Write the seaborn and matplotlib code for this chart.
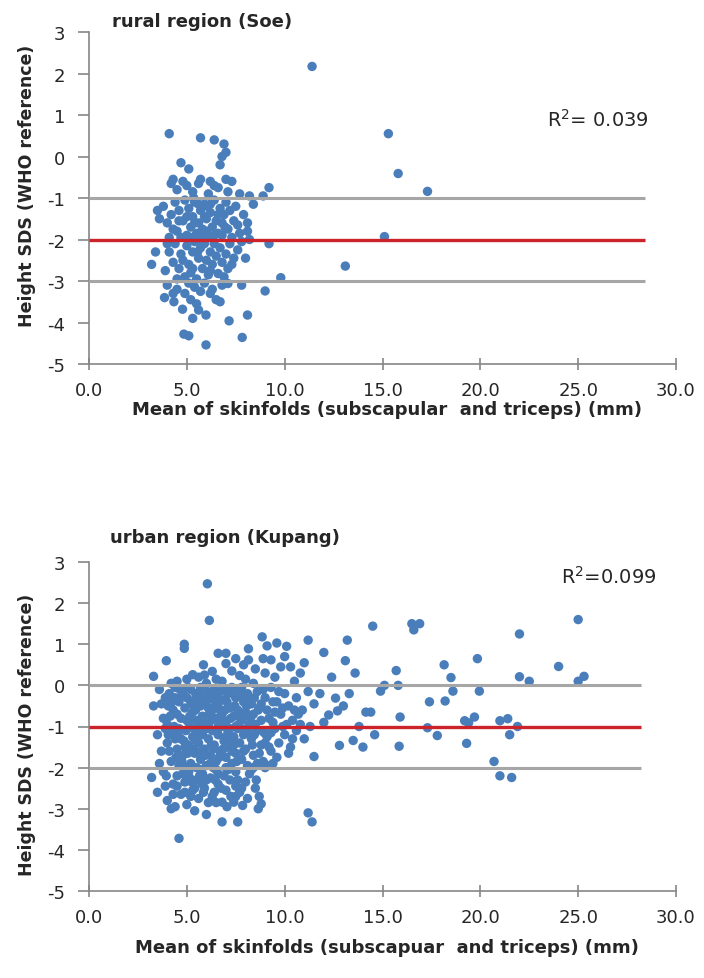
import matplotlib
matplotlib.use("Agg")
import matplotlib.pyplot as plt
import seaborn as sns
import pandas as pd

# ---------------- data ----------------
x_ticks = [0, 5, 10, 15, 20, 25, 30]
y_ticks = [-5, -4, -3, -2, -1, 0, 1, 2, 3]

rural_title = "rural region (Soe)"
urban_title = "urban region (Kupang)"
rural_xlabel = "Mean of skinfolds (subscapular  and triceps) (mm)"
urban_xlabel = "Mean of skinfolds (subscapuar  and triceps) (mm)"
ylabel = "Height SDS (WHO reference)"
rural_r2 = "R$^2$= 0.039"
urban_r2 = "R$^2$=0.099"

rural_grey_lines = [-1, -3]
rural_red_lines = [-2]
urban_grey_lines = [0, -2]
urban_red_lines = [-1]
rural_line_end = 28.4
urban_line_end = 28.2

rural_upper = [(4.1, 0.55), (5.7, 0.45), (6.4, 0.4), (6.9, 0.3), (7.0, 0.1), (6.8, 0.0),
               (4.7, -0.15), (5.1, -0.3), (6.7, -0.2), (5.7, -0.55), (4.2, -0.65), (6.4, -0.7),
               (7.0, -0.55), (7.3, -0.6), (4.5, -0.8), (5.0, -0.7), (5.3, -0.85), (6.1, -0.9),
               (6.6, -0.75), (7.1, -0.85), (7.7, -0.9), (8.2, -0.95), (8.9, -0.95), (9.2, -0.75),
               (4.3, -0.55), (4.8, -0.6), (5.6, -0.65), (6.2, -0.6)]
rural_mid = [(3.5, -1.3), (3.6, -1.5), (3.8, -1.2), (4.0, -1.6), (4.2, -1.4), (4.4, -1.1),
             (4.5, -1.8), (4.6, -1.3), (4.8, -1.55), (4.9, -1.05), (5.0, -1.9), (5.1, -1.25),
             (5.2, -1.7), (5.3, -1.45), (5.4, -1.1), (5.5, -1.85), (5.6, -1.6), (5.7, -1.3),
             (5.8, -1.75), (5.9, -1.15), (6.0, -1.5), (6.1, -1.95), (6.2, -1.35), (6.3, -1.7),
             (6.4, -1.05), (6.5, -1.55), (6.6, -1.85), (6.7, -1.25), (6.8, -1.6), (6.9, -1.4),
             (7.0, -1.1), (7.1, -1.75), (7.2, -1.3), (7.4, -1.55), (7.5, -1.2), (7.7, -1.85),
             (7.9, -1.4), (8.1, -1.6), (8.1, -1.8), (8.4, -1.15), (5.2, -1.95), (5.6, -1.15),
             (6.0, -1.8), (4.3, -1.75), (4.7, -1.95), (5.4, -1.6), (5.9, -1.45), (6.4, -1.9),
             (6.8, -1.9), (7.3, -1.95), (4.1, -1.95), (5.0, -1.45), (6.2, -1.15), (6.6, -1.4),
             (7.6, -1.65), (5.35, -1.0), (6.05, -1.2), (4.6, -1.55), (5.75, -1.95), (6.95, -1.7)]
rural_low = [(3.4, -2.3), (3.2, -2.6), (4.1, -2.3), (3.9, -2.75), (4.3, -2.55), (4.4, -2.1),
             (4.6, -2.7), (4.7, -2.35), (4.9, -2.9), (5.0, -2.15), (5.1, -2.6), (5.2, -2.8),
             (5.3, -2.3), (5.4, -2.05), (5.5, -2.95), (5.6, -2.45), (5.7, -2.2), (5.8, -2.7),
             (5.9, -2.1), (6.0, -2.5), (6.1, -2.85), (6.2, -2.3), (6.3, -2.6), (6.4, -2.1),
             (6.5, -2.4), (6.6, -2.82), (6.7, -2.2), (6.8, -2.55), (7.0, -2.35), (7.1, -2.7),
             (7.2, -2.1), (7.4, -2.45), (7.6, -2.25), (7.8, -2.05), (8.0, -2.45), (8.2, -2.0),
             (9.2, -2.1), (13.1, -2.64), (9.8, -2.92), (4.5, -2.95), (5.8, -2.05), (6.9, -2.9),
             (4.0, -2.1), (5.3, -2.7), (6.2, -2.75), (7.3, -2.6), (4.8, -2.5), (5.55, -2.3)]
rural_bottom = [(3.86, -3.4), (4.0, -3.1), (4.34, -3.5), (4.5, -3.2), (4.78, -3.68), (4.9, -3.3),
                (5.1, -3.05), (5.2, -3.45), (5.4, -3.15), (5.5, -3.55), (5.7, -3.25), (5.9, -3.05),
                (5.98, -3.82), (6.2, -3.3), (6.5, -3.45), (6.7, -3.5), (6.8, -3.1), (7.16, -3.96),
                (7.1, -3.06), (7.8, -3.1), (8.1, -3.82), (7.83, -4.36), (9.0, -3.24), (4.85, -4.28),
                (5.1, -4.32), (5.98, -4.54), (5.6, -3.7), (6.3, -3.2), (4.3, -3.3), (5.3, -3.9)]
rural_outliers = [(11.4, 2.17), (15.3, 0.55), (15.8, -0.41), (17.3, -0.84), (15.1, -1.93)]

urban_upper = [(6.05, 2.47), (6.15, 1.58), (4.87, 1.0), (4.87, 0.9), (3.95, 0.6), (3.3, 0.22),
               (8.85, 1.18), (9.1, 0.96), (9.6, 1.03), (8.15, 0.89), (8.15, 0.62), (6.6, 0.78),
               (7.0, 0.78), (7.0, 0.53), (5.85, 0.5), (6.3, 0.34), (7.7, 0.24), (5.3, 0.26),
               (8.9, 0.65), (9.3, 0.62), (10.0, 0.7), (11.2, 1.1), (10.8, 0.3), (4.5, 0.1),
               (5.0, 0.15), (5.6, 0.2), (6.0, 0.05), (6.8, 0.1), (7.3, 0.35), (8.0, 0.15),
               (8.5, 0.4), (9.0, 0.3), (9.5, 0.2), (10.3, 0.45), (10.5, 0.1), (4.2, 0.05),
               (5.9, 0.25), (7.9, 0.5), (9.8, 0.45), (8.4, 0.05), (6.5, 0.15), (11.0, 0.55),
               (10.1, 0.95), (7.5, 0.65)]
urban_core_a = [(3.6, -0.1), (3.9, -0.3), (4.1, -0.2), (4.3, -0.6), (4.4, -0.05), (4.6, -0.4),
                (4.7, -0.8), (4.8, -0.15), (4.9, -0.55), (5.0, -0.3), (5.1, -0.9), (5.2, -0.1),
                (5.3, -0.65), (5.4, -0.35), (5.5, -0.85), (5.6, -0.2), (5.7, -0.5), (5.8, -0.75),
                (5.9, -0.05), (6.0, -0.4), (6.1, -0.95), (6.2, -0.25), (6.3, -0.6), (6.4, -0.1),
                (6.5, -0.8), (6.6, -0.45), (6.7, -0.15), (6.8, -0.7), (6.9, -0.35), (7.0, -0.9),
                (7.1, -0.2), (7.2, -0.55), (7.3, -0.05), (7.4, -0.75), (7.5, -0.3), (7.6, -0.6),
                (7.7, -0.1), (7.8, -0.85), (7.9, -0.4), (8.0, -0.65), (8.1, -0.2), (8.2, -0.95),
                (8.3, -0.45), (8.4, -0.7), (8.6, -0.15), (8.7, -0.55), (8.8, -0.85), (9.0, -0.3),
                (9.1, -0.6), (9.3, -0.05), (9.4, -0.9), (9.6, -0.4), (9.8, -0.7), (10.0, -0.2),
                (10.2, -0.5), (10.4, -0.85), (10.6, -0.3), (10.9, -0.6), (11.2, -0.15), (11.5, -0.45),
                (3.3, -0.5), (3.8, -0.8), (4.0, -0.95), (4.5, -0.7), (5.05, -0.05), (5.45, -0.6),
                (5.75, -0.3), (6.15, -0.7), (6.45, -0.5), (6.75, -0.9), (7.05, -0.4), (7.35, -0.2),
                (7.65, -0.95), (8.05, -0.5), (8.45, -0.3), (8.9, -0.1), (9.2, -0.8), (9.7, -0.15),
                (10.1, -0.95), (10.7, -0.7), (4.25, -0.4), (4.75, -0.25), (5.25, -0.45), (5.65, -0.95),
                (6.05, -0.15), (6.55, -0.3), (6.95, -0.6), (7.45, -0.5), (7.85, -0.25), (8.25, -0.8),
                (12.25, -0.72), (12.7, -0.62), (12.6, -0.31), (12.0, -0.9), (11.8, -0.2), (13.0, -0.5)]
urban_core_b = [(3.5, -1.2), (3.7, -1.6), (3.9, -1.05), (4.0, -1.4), (4.2, -1.85), (4.3, -1.15),
                (4.5, -1.55), (4.6, -1.95), (4.7, -1.3), (4.8, -1.7), (4.95, -1.1), (5.1, -1.45),
                (5.2, -1.9), (5.3, -1.25), (5.4, -1.65), (5.5, -1.05), (5.6, -1.4), (5.7, -1.8),
                (5.8, -1.2), (5.9, -1.55), (6.0, -1.95), (6.1, -1.3), (6.2, -1.7), (6.3, -1.1),
                (6.4, -1.45), (6.5, -1.85), (6.6, -1.2), (6.7, -1.6), (6.8, -1.0), (6.9, -1.35),
                (7.0, -1.75), (7.1, -1.15), (7.2, -1.5), (7.3, -1.9), (7.4, -1.25), (7.5, -1.65),
                (7.6, -1.05), (7.7, -1.4), (7.8, -1.8), (7.9, -1.2), (8.0, -1.55), (8.1, -1.95),
                (8.3, -1.3), (8.4, -1.7), (8.6, -1.1), (8.8, -1.45), (8.9, -1.85), (9.1, -1.25),
                (9.3, -1.6), (9.5, -1.05), (9.7, -1.4), (10.0, -1.2), (10.3, -1.5), (10.6, -1.1),
                (11.0, -1.3), (11.5, -1.73), (11.3, -1.0), (12.8, -1.46), (13.5, -1.34), (13.8, -1.0),
                (3.6, -1.9), (4.1, -1.6), (4.4, -1.3), (4.9, -1.5), (5.35, -1.05), (5.75, -1.6),
                (6.25, -1.45), (6.65, -1.75), (7.15, -1.35), (7.55, -1.85), (8.2, -1.15), (8.7, -1.65),
                (9.0, -2.0), (9.4, -1.9)]
urban_core_c = [(3.2, -2.24), (3.5, -2.6), (3.8, -2.1), (4.0, -2.8), (4.2, -3.0), (4.3, -2.4),
                (4.6, -3.72), (4.5, -2.2), (4.7, -2.65), (4.9, -2.35), (5.0, -2.9), (5.1, -2.1),
                (5.3, -2.55), (5.4, -3.05), (5.5, -2.3), (5.6, -2.75), (5.8, -2.15), (5.9, -2.5),
                (6.0, -3.14), (6.1, -2.85), (6.2, -2.25), (6.4, -2.6), (6.5, -2.05), (6.6, -2.4),
                (6.8, -3.32), (6.8, -2.84), (6.9, -2.2), (7.0, -2.55), (7.2, -2.3), (7.4, -2.84),
                (7.5, -2.1), (7.6, -3.32), (7.7, -2.6), (7.85, -2.92), (8.0, -2.35), (8.2, -2.15),
                (8.4, -2.0), (8.5, -2.5), (8.65, -3.0), (8.8, -2.88), (8.7, -2.7), (9.0, -1.92),
                (11.2, -3.1), (11.4, -3.32), (3.9, -2.45), (4.4, -2.95), (5.2, -2.7), (5.7, -2.05),
                (6.3, -2.7), (7.1, -2.05), (4.8, -2.15), (5.5, -2.0)]
urban_core_d = [(4.15, -0.75), (4.35, -1.0), (4.55, -1.2), (4.65, -0.1), (4.85, -1.35), (5.15, -0.75),
                (5.35, -1.55), (5.55, -0.45), (5.65, -2.2), (5.85, -1.0), (5.95, -1.7), (6.25, -0.85),
                (6.35, -2.0), (6.6, -1.0), (6.85, -1.55), (7.25, -0.8), (7.3, -1.6), (7.6, -2.3),
                (7.95, -0.7), (8.35, -1.45), (4.45, -1.75), (4.95, -2.0), (5.25, -2.35), (5.85, -2.6),
                (6.45, -2.3), (6.75, -2.5), (7.25, -2.7), (7.8, -2.5), (8.6, -1.9), (9.2, -1.5),
                (9.6, -1.75), (9.9, -0.55), (10.4, -1.3), (10.8, -0.95), (4.05, -0.5), (4.5, -2.45),
                (5.05, -1.65), (5.6, -1.15), (6.1, -0.55), (6.7, -0.6), (7.0, -1.25), (7.5, -1.0),
                (8.05, -1.05), (8.5, -0.95), (8.95, -1.15), (5.2, -0.4), (6.35, -1.55), (7.8, -0.05),
                (8.55, -2.3), (9.4, -0.4)]
urban_core_e = [(4.05, -1.2), (4.4, -0.3), (4.6, -1.05), (4.75, -1.85), (5.0, -0.85), (5.15, -2.25),
                (5.45, -0.2), (5.5, -1.35), (5.7, -0.05), (5.8, -2.4), (6.0, -1.05), (6.2, -1.9),
                (6.4, -0.35), (6.55, -1.1), (6.6, -2.15), (6.9, -0.85), (7.0, -2.0), (7.2, -1.05),
                (7.4, -1.45), (7.5, -2.45), (7.7, -0.75), (7.9, -1.6), (8.1, -0.35), (8.3, -2.05),
                (8.45, -1.2), (8.8, -0.45), (9.0, -1.4), (9.3, -1.15), (9.5, -0.65), (9.9, -1.0),
                (10.2, -1.65), (10.5, -0.6), (3.7, -0.45), (3.95, -2.2), (4.3, -2.65), (4.9, -2.6),
                (5.4, -2.5), (6.0, -2.3), (6.5, -2.85), (7.05, -2.95), (7.5, -2.7), (8.1, -2.75),
                (4.2, -1.05), (5.9, -0.9), (6.95, -0.1), (8.65, -0.6)]
urban_tail = [(13.2, 1.1), (13.1, 0.6), (14.5, 1.44), (16.5, 1.5), (16.9, 1.5), (16.6, 1.35),
              (22.0, 1.25), (25.0, 1.6), (19.85, 0.65), (18.15, 0.5), (18.5, 0.19), (18.6, -0.14),
              (19.95, -0.14), (17.4, -0.4), (18.2, -0.38), (15.7, 0.36), (22.0, 0.21), (22.5, 0.1),
              (24.0, 0.46), (25.0, 0.1), (25.3, 0.22), (14.9, -0.14), (15.1, 0.0), (15.8, 0.0),
              (14.4, -0.65), (15.9, -0.77), (17.3, -1.03), (17.8, -1.22), (19.2, -0.86), (19.4, -0.91),
              (19.7, -0.77), (21.0, -0.86), (21.4, -0.81), (21.9, -1.0), (21.5, -1.2), (19.3, -1.41),
              (15.85, -1.48), (14.6, -1.2), (20.7, -1.85), (21.0, -2.2), (21.6, -2.24), (14.15, -0.65),
              (13.3, -0.2), (12.4, 0.2), (13.6, 0.3), (12.0, 0.8), (14.0, -1.5)]

# ---------------- build tables ----------------
rural = pd.DataFrame(rural_upper + rural_mid + rural_low + rural_bottom + rural_outliers,
                     columns=["skinfold", "height_sds"])
urban = pd.DataFrame(urban_upper + urban_core_a + urban_core_b + urban_core_c + urban_core_d
                     + urban_core_e + urban_tail,
                     columns=["skinfold", "height_sds"])

sns.set_theme(style="white")
plt.rcParams["font.family"] = ["DejaVu Sans"]
plt.rcParams["axes.unicode_minus"] = False

POINT = "#4A7EBB"
GREY = "#A6A6A6"
RED = "#CC2229"
AXIS = "#868686"
TEXT = "#262626"

fig = plt.figure(figsize=(7.04, 9.79), dpi=100)
ax1 = fig.add_axes([89 / 704, 1 - 365 / 979, 587 / 704, 332 / 979])
ax2 = fig.add_axes([89 / 704, 1 - 892 / 979, 587 / 704, 329 / 979])


def style(ax, df, grey, red, line_end, r2, r2_xy):
    sns.scatterplot(data=df, x="skinfold", y="height_sds", ax=ax, s=46, color=POINT,
                    edgecolor="none", linewidth=0, zorder=2, legend=False)
    ax.hlines(grey, 0, line_end, colors=GREY, linewidth=2.2, zorder=3)
    ax.hlines(red, 0, line_end, colors=RED, linewidth=2.4, zorder=3)
    ax.set_xlim(0, 30)
    ax.set_ylim(-5, 3)
    ax.set_xticks(x_ticks)
    ax.set_xticklabels([f"{v:.1f}" for v in x_ticks])
    ax.set_yticks(y_ticks)
    ax.set_yticklabels([str(v) for v in y_ticks])
    for side in ["top", "right"]:
        ax.spines[side].set_visible(False)
    for side in ["left", "bottom"]:
        ax.spines[side].set_color(AXIS)
        ax.spines[side].set_linewidth(1.2)
    ax.tick_params(axis="y", direction="out", length=8, width=1.2, color=AXIS,
                   labelsize=13, labelcolor=TEXT, pad=9, left=True)
    ax.tick_params(axis="x", direction="inout", length=9, width=1.2, color=AXIS,
                   labelsize=13, labelcolor=TEXT, pad=8, bottom=True)
    ax.set_xlabel("")
    ax.set_ylabel("")
    ax.grid(False)
    ax.text(r2_xy[0], r2_xy[1], r2, fontsize=14, color=TEXT, va="center", ha="left")


style(ax1, rural, rural_grey_lines, rural_red_lines, rural_line_end, rural_r2, (23.4, 0.9))
style(ax2, urban, urban_grey_lines, urban_red_lines, urban_line_end, urban_r2, (24.1, 2.66))

fig.text(112 / 704, 1 - 22 / 979, rural_title, fontsize=13, fontweight="bold", color=TEXT,
         ha="left", va="center")
fig.text(110 / 704, 1 - 538 / 979, urban_title, fontsize=13, fontweight="bold", color=TEXT,
         ha="left", va="center")
fig.text(387 / 704, 1 - 410 / 979, rural_xlabel, fontsize=13, fontweight="bold", color=TEXT,
         ha="center", va="center")
fig.text(387 / 704, 1 - 948 / 979, urban_xlabel, fontsize=13, fontweight="bold", color=TEXT,
         ha="center", va="center")
fig.text(27 / 704, 1 - 186 / 979, ylabel, fontsize=12.5, fontweight="bold", color=TEXT,
         ha="center", va="center", rotation=90)
fig.text(27 / 704, 1 - 735 / 979, ylabel, fontsize=12.5, fontweight="bold", color=TEXT,
         ha="center", va="center", rotation=90)

fig.savefig("out.png", dpi=100, facecolor="white")
